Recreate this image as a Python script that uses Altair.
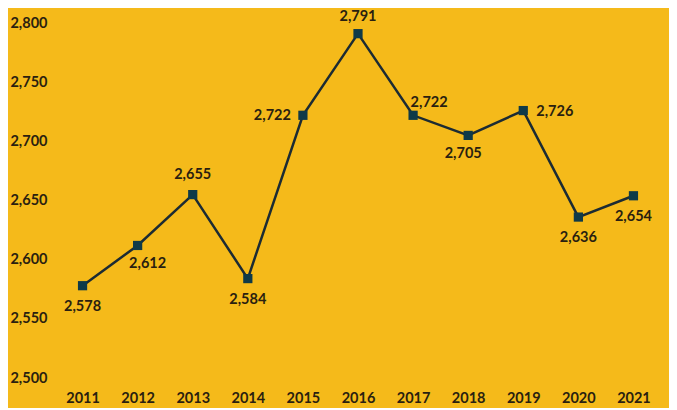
import altair as alt
import pandas as pd

years = ["2011", "2012", "2013", "2014", "2015", "2016", "2017", "2018", "2019", "2020", "2021"]
values = [2578, 2612, 2655, 2584, 2722, 2791, 2722, 2705, 2726, 2636, 2654]
label_pos = ["below", "below_r", "above", "below", "left", "above_top", "above_r", "below_l", "right", "below", "below"]
y_ticks = [2500, 2550, 2600, 2650, 2700, 2750, 2800]

df = pd.DataFrame({"year": years, "value": values, "pos": label_pos})

BG = "#F5BA1A"
TEXT = "#2a1f10"
LINE = "#1c2b33"
MARK = "#0f3a48"
FONT = "Lato"

x = alt.X("year:O", title=None,
          scale=alt.Scale(type="point", padding=0.5),
          axis=alt.Axis(labelAngle=0, ticks=False, domain=False, labelPadding=13,
                        labelFontSize=14.5, labelFont=FONT, labelFontWeight="bold",
                        labelColor=TEXT, grid=False))
y = alt.Y("value:Q", title=None,
          scale=alt.Scale(domain=[2500, 2800], nice=False, zero=False),
          axis=alt.Axis(values=y_ticks, labelExpr="format(datum.value, ',')",
                        ticks=False, domain=False, grid=False, labelPadding=8,
                        labelFontSize=14.5, labelFont=FONT, labelFontWeight="bold",
                        labelColor=TEXT))

base = alt.Chart(df).encode(x=x, y=y)

line = base.mark_line(color=LINE, strokeWidth=2.5)
pts = base.mark_point(shape="square", filled=True, size=85, color=MARK, opacity=1)

offsets = {
    "below": dict(dx=0, dy=21, align="center"),
    "below_r": dict(dx=10, dy=19, align="center"),
    "below_l": dict(dx=-5, dy=19, align="center"),
    "above": dict(dx=0, dy=-20, align="center"),
    "above_top": dict(dx=0, dy=-17, align="center"),
    "above_r": dict(dx=16, dy=-12, align="center"),
    "left": dict(dx=-12, dy=1, align="right"),
    "right": dict(dx=13, dy=1, align="left"),
}

labels = []
for name, o in offsets.items():
    labels.append(
        base.transform_filter(alt.datum.pos == name).mark_text(
            font=FONT, fontSize=14.5, fontWeight="bold", color=TEXT,
            baseline="middle", **o
        ).encode(text=alt.Text("value:Q", format=","))
    )

chart = alt.layer(line, pts, *labels).properties(
    width=606, height=355,
    autosize=alt.AutoSizeParams(type="none"),
    padding={"left": 47, "top": 15, "right": 8, "bottom": 30},
    background=BG,
).configure_view(stroke=None)

chart.save("out.html", embed_options={"renderer": "svg", "actions": False})
